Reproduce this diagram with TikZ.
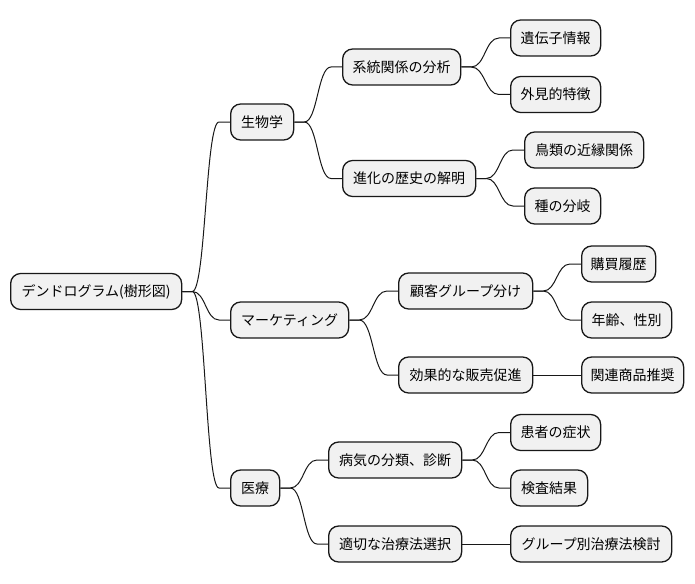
\documentclass[tikz,border=0pt]{standalone}
\usepackage{fontspec}
\setmainfont{Noto Sans CJK JP}
\usetikzlibrary{calc}
\definecolor{boxfill}{HTML}{F1F1F1}
\definecolor{boxline}{HTML}{181818}
\tikzset{
  mmbox/.style={draw=boxline, fill=boxfill, line width=1.3pt, rounded corners=10pt,
    minimum height=36pt, inner sep=0pt, anchor=west, font=\fontsize{14pt}{16pt}\selectfont, text=black},
  mmline/.style={draw=boxline, line width=1pt},
}
\newcommand{\mmlink}[2]{%
  \draw[mmline] let \p1=($(#1.east)+(10,0)$), \p2=($(#2.west)-(11,0)$) in
    (#1.east) -- (\p1) .. controls ({(\x1+\x2)/2},\y1) and ({(\x1+\x2)/2},\y2) .. (\p2) -- (#2.west);}
\begin{document}
\begin{tikzpicture}[x=1pt,y=-1pt]
\useasboundingbox (0,0) rectangle (695,583);
\node[mmbox, minimum width=171pt] (root) at (10,291.5) {デンドログラム(樹形図)};
\node[mmbox, minimum width=63pt] (bio) at (230,122) {生物学};
\node[mmbox, minimum width=118pt] (sys) at (342,67) {系統関係の分析};
\node[mmbox, minimum width=133pt] (evo) at (342,178.5) {進化の歴史の解明};
\node[mmbox, minimum width=90pt] (gene) at (510,38) {遺伝子情報};
\node[mmbox, minimum width=90pt] (ext) at (510,94.5) {外見的特徴};
\node[mmbox, minimum width=119pt] (bird) at (524,150) {鳥類の近縁関係};
\node[mmbox, minimum width=76pt] (spec) at (524,206) {種の分岐};
\node[mmbox, minimum width=118pt] (mkt) at (230,320) {マーケティング};
\node[mmbox, minimum width=134pt] (cust) at (398,291) {顧客グループ分け};
\node[mmbox, minimum width=134pt] (prom) at (398,375) {効果的な販売促進};
\node[mmbox, minimum width=74pt] (buy) at (581,264) {購買履歴};
\node[mmbox, minimum width=90pt] (age) at (581,320) {年齢、性別};
\node[mmbox, minimum width=102pt] (rel) at (581,375) {関連商品推奨};
\node[mmbox, minimum width=49pt] (med) at (230,488) {医療};
\node[mmbox, minimum width=133pt] (dis) at (328,460) {病気の分類、診断};
\node[mmbox, minimum width=133pt] (tre) at (328,544) {適切な治療法選択};
\node[mmbox, minimum width=90pt] (pat) at (510,432.5) {患者の症状};
\node[mmbox, minimum width=77pt] (test) at (510,488) {検査結果};
\node[mmbox, minimum width=161pt] (grp) at (510,544) {グループ別治療法検討};
\mmlink{root}{bio}
\mmlink{root}{mkt}
\mmlink{root}{med}
\mmlink{bio}{sys}
\mmlink{bio}{evo}
\mmlink{sys}{gene}
\mmlink{sys}{ext}
\mmlink{evo}{bird}
\mmlink{evo}{spec}
\mmlink{mkt}{cust}
\mmlink{mkt}{prom}
\mmlink{cust}{buy}
\mmlink{cust}{age}
\draw[mmline] (prom.east) -- (rel.west);
\mmlink{med}{dis}
\mmlink{med}{tre}
\mmlink{dis}{pat}
\mmlink{dis}{test}
\draw[mmline] (tre.east) -- (grp.west);
\end{tikzpicture}
\end{document}
